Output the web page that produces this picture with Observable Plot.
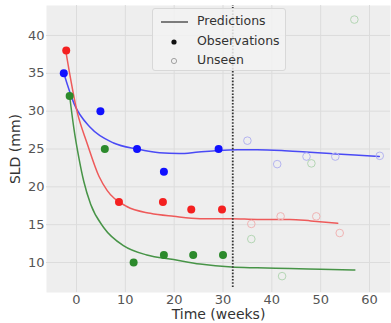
<!DOCTYPE html>
<html>
<head>
<meta charset="utf-8">
<script src="https://cdn.jsdelivr.net/npm/d3@7"></script>
<script src="https://cdn.jsdelivr.net/npm/@observablehq/plot@0.6"></script>
<style>
  html, body { margin: 0; padding: 0; background: #fff; }
  #wrap { position: relative; width: 391px; height: 323px; font-family: "DejaVu Sans", sans-serif; }
  #legend { position: absolute; left: 152px; top: 8px; width: 134px; height: 63px;
    background: rgba(242,242,242,0.85); border: 1px solid #d8d8d8; border-radius: 3px; box-sizing: border-box; }
  .row { position: absolute; left: 0; height: 20px; width: 134px; font-size: 12.5px; color: #333; }
  .row span.t { position: absolute; left: 44px; top: 2px; line-height: 14px; }
  .sym { position: absolute; }
</style>
</head>
<body>
<div id="wrap"></div>
<script>
// ---- data ----
const xTicks = [0, 10, 20, 30, 40, 50, 60];
const yTicks = [10, 15, 20, 25, 30, 35, 40];
const cutoffWeek = [32];

// predictions (model curves)
const predBlueX = [-2.6, -0.5, 2.9, 7.6, 12.4, 17, 21, 25, 29, 33, 37, 42, 47, 52, 57, 62];
const predBlueY = [35, 31, 27.8, 25.8, 25, 24.5, 24.4, 24.6, 24.8, 24.9, 24.9, 24.8, 24.6, 24.4, 24.2, 24.0];
const predRedX = [-2.1, 0.1, 2.2, 4.6, 6.3, 10.3, 15.1, 19.9, 25.3, 31.8, 37, 43.7, 48, 53.5];
const predRedY = [37.6, 30, 25.7, 21.4, 19.5, 17.4, 16.5, 16.1, 15.8, 15.8, 15.7, 15.7, 15.5, 15.2];
const predGreenX = [-1.4, -0.55, 0.5, 1.5, 2.9, 5.6, 9.7, 14.4, 19.9, 25.3, 31.8, 37, 43.7, 50, 57];
const predGreenY = [32, 27.8, 23.8, 20.7, 17.7, 14.6, 12.2, 11.0, 10.4, 9.8, 9.4, 9.3, 9.2, 9.1, 9.0];

// observations (filled)
const obsBlueX = [-2.6, 4.9, 12.4, 17.9, 29.1];
const obsBlueY = [35, 30, 25, 22, 25];
const obsRedX = [-2.1, 8.7, 17.7, 23.5, 29.8];
const obsRedY = [38, 18, 18, 17, 17];
const obsGreenX = [-1.4, 5.8, 11.7, 17.9, 23.9, 30.0];
const obsGreenY = [32, 25, 10, 11, 11, 11];

// unseen (open)
const unsBlueX = [35.0, 41.1, 47.1, 53.0, 62.1];
const unsBlueY = [26.1, 23.0, 24.0, 24.0, 24.1];
const unsRedX = [35.8, 41.8, 49.1, 53.9];
const unsRedY = [15.1, 16.1, 16.1, 13.9];
const unsGreenX = [35.8, 48.1, 42.1, 56.9];
const unsGreenY = [13.1, 23.1, 8.2, 42.1];

const legendLabels = ["Predictions", "Observations", "Unseen"];

// ---- build tables ----
const lineCol = {blue: "#4a4af5", red: "#ee5a5a", green: "#479447"};
const dotCol = {blue: "#1010ff", red: "#f42020", green: "#2c8a2c"};
const openCol = {blue: "#b4b4f0", red: "#f0b4b4", green: "#b4d6b4"};

function zip(xs, ys, s) { return xs.map((x, i) => ({x, y: ys[i], s})); }
const pred = [zip(predBlueX, predBlueY, "blue"), zip(predRedX, predRedY, "red"), zip(predGreenX, predGreenY, "green")];
const obs = [...zip(obsBlueX, obsBlueY, "blue"), ...zip(obsRedX, obsRedY, "red"), ...zip(obsGreenX, obsGreenY, "green")];
const uns = [...zip(unsBlueX, unsBlueY, "blue"), ...zip(unsRedX, unsRedY, "red"), ...zip(unsGreenX, unsGreenY, "green")];

const chart = Plot.plot({
  width: 391, height: 323,
  marginLeft: 46, marginRight: 1, marginTop: 5, marginBottom: 31,
  style: {fontFamily: "DejaVu Sans, sans-serif", fontSize: "13px", color: "#555", background: "transparent"},
  x: {domain: [-6.14, 64.3]},
  y: {domain: [6.04, 43.96]},
  marks: [
    Plot.frame({fill: "#eeeeee", stroke: null}),
    Plot.gridX(xTicks, {stroke: "#dcdcdc", strokeOpacity: 1, strokeWidth: 1}),
    Plot.gridY(yTicks, {stroke: "#dcdcdc", strokeOpacity: 1, strokeWidth: 1}),
    Plot.axisX(xTicks, {tickSize: 0, tickPadding: 2, label: "Time (weeks)", labelArrow: "none", labelAnchor: "center", labelOffset: 26, fill: "#555"}),
    Plot.axisY(yTicks, {tickSize: 0, tickPadding: 2, label: "SLD (mm)", labelArrow: "none", labelAnchor: "center", labelOffset: 36, fill: "#555"}),
    ...pred.map(p => Plot.line(p, {x: "x", y: "y", stroke: lineCol[p[0].s], strokeWidth: 1.5, curve: "monotone-x"})),
    Plot.dot(uns, {x: "x", y: "y", r: 3.8, stroke: d => openCol[d.s], strokeWidth: 1, fill: "none"}),
    Plot.dot(obs, {x: "x", y: "y", r: 4, fill: d => dotCol[d.s], stroke: null}),
    Plot.ruleX(cutoffWeek, {y1: 6.04, y2: 43.96, stroke: "#333", strokeWidth: 1.8, strokeDasharray: "1.6,1.6", insetTop: -5})
  ]
});

// axis label font size / colour; drop any arrow glyphs
chart.querySelectorAll('[aria-label="x-axis label"], [aria-label="y-axis label"]').forEach(g => {
  g.setAttribute("font-size", "14px");
  g.setAttribute("fill", "#333");
  g.querySelectorAll("text").forEach(t => {
    t.setAttribute("fill", "#333"); t.style.fontSize = "14px";
    t.textContent = t.textContent.replace(/\s*[→←↑↓]\s*/g, "");
  });
});

const wrap = document.getElementById("wrap");
chart.style.position = "absolute";
chart.style.left = "0px";
chart.style.top = "0px";
wrap.appendChild(chart);

// legend (HTML overlay)
const legend = document.createElement("div");
legend.id = "legend";
const syms = [
  '<svg class="sym" width="40" height="20" style="left:0;top:0"><line x1="8" x2="35" y1="10" y2="10" stroke="#555" stroke-width="1.5"/></svg>',
  '<svg class="sym" width="40" height="20" style="left:0;top:0"><circle cx="21" cy="10" r="2.6" fill="#111"/></svg>',
  '<svg class="sym" width="40" height="20" style="left:0;top:0"><circle cx="21" cy="10" r="2.6" fill="none" stroke="#999" stroke-width="0.9"/></svg>'
];
legendLabels.forEach((lab, i) => {
  const row = document.createElement("div");
  row.className = "row";
  row.style.top = (3 + i * 19.5) + "px";
  row.innerHTML = syms[i] + '<span class="t"></span>';
  row.querySelector(".t").textContent = lab;
  legend.appendChild(row);
});
wrap.appendChild(legend);
</script>
</body>
</html>
